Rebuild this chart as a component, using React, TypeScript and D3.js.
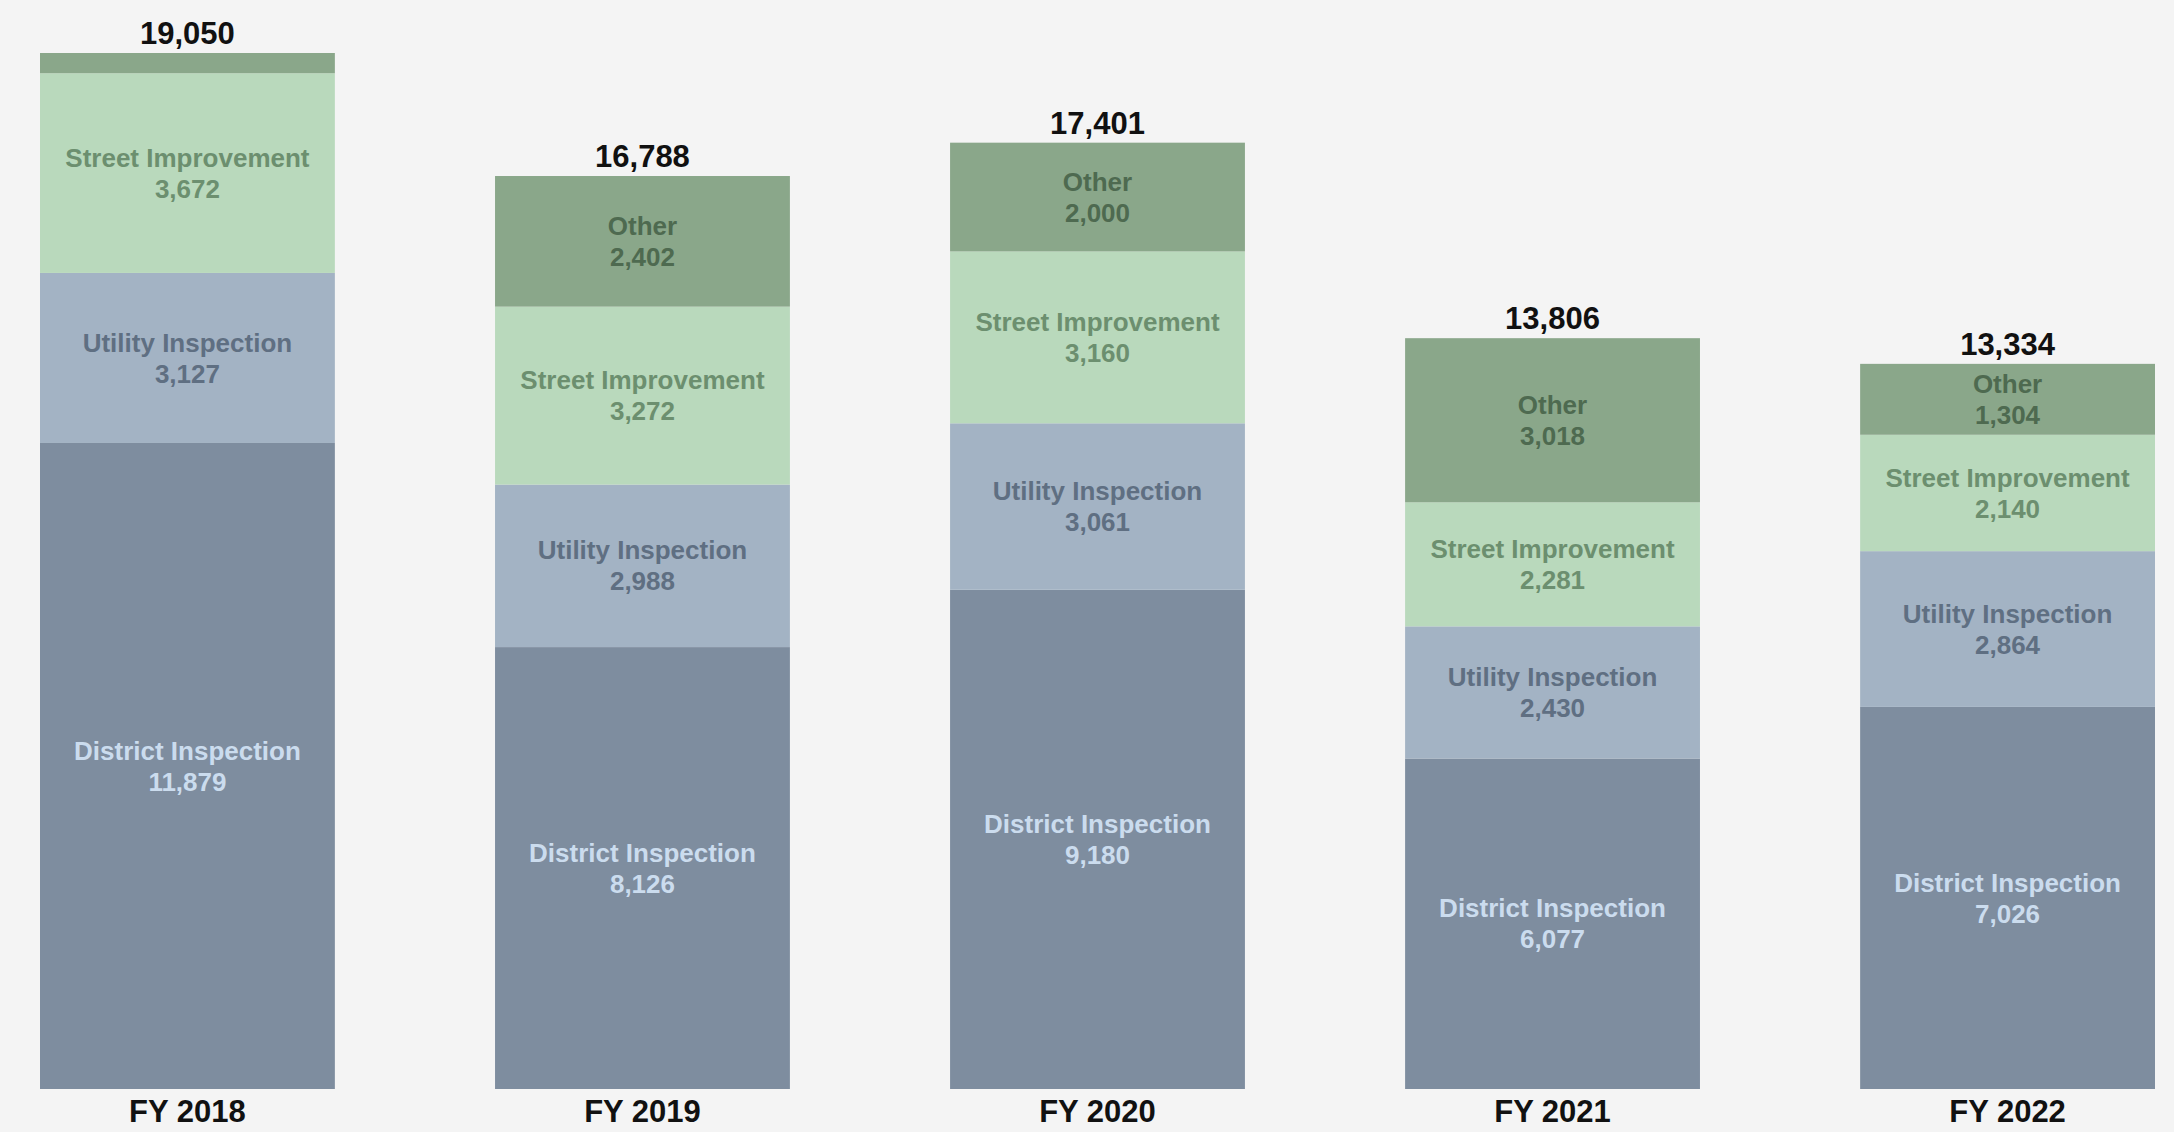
import React from "react";
import * as d3 from "d3";

const years = ["FY 2018", "FY 2019", "FY 2020", "FY 2021", "FY 2022"];
const seriesNames = ["District Inspection", "Utility Inspection", "Street Improvement", "Other"];
const districtInspection = [11879, 8126, 9180, 6077, 7026];
const utilityInspection = [3127, 2988, 3061, 2430, 2864];
const streetImprovement = [3672, 3272, 3160, 2281, 2140];
const other = [372, 2402, 2000, 3018, 1304];
const totals = [19050, 16788, 17401, 13806, 13334];

const fills = ["#7e8d9f", "#a3b3c4", "#b9d9bc", "#8aa78a"];
const textColors = ["#cbdcee", "#5f6f82", "#6c8f6f", "#4e6a50"];

const W = 2174;
const H = 1132;

export default function App() {
  const series = [districtInspection, utilityInspection, streetImprovement, other];
  const rows = years.map((y, i) => {
    const r: any = { year: y };
    seriesNames.forEach((s, k) => (r[s] = series[k][i]));
    return r;
  });
  const stacked = d3.stack().keys(seriesNames)(rows);

  const x = d3.scaleBand().domain(years).range([40, 2155]).paddingInner(0.352).paddingOuter(0);
  const y = d3.scaleLinear().domain([0, 19050]).range([1089, 53]);
  const fmt = d3.format(",");
  const font = "'Liberation Sans', Arial, sans-serif";

  return (
    <svg
      width={W}
      height={H}
      style={{ position: "absolute", left: 0, top: 0, background: "#f4f4f4" }}
      fontFamily={font}
    >
      <rect x={0} y={0} width={W} height={H} fill="#f4f4f4" />
      {stacked.map((layer, k) => (
        <g key={layer.key}>
          {layer.map((d, i) => {
            const x0 = x(years[i])!;
            const y0 = y(d[1]);
            const y1 = y(d[0]);
            const h = y1 - y0;
            const cx = x0 + x.bandwidth() / 2;
            const cy = (y0 + y1) / 2;
            return (
              <g key={years[i]}>
                <rect x={x0} y={y0} width={x.bandwidth()} height={h} fill={fills[k]} />
                {h > 50 && (
                  <text
                    textAnchor="middle"
                    fill={textColors[k]}
                    fontWeight="bold"
                    fontSize={26}
                  >
                    <tspan x={cx} y={cy - 15.5} dy="0.35em">{layer.key}</tspan>
                    <tspan x={cx} y={cy + 15.5} dy="0.35em">{fmt(series[k][i])}</tspan>
                  </text>
                )}
              </g>
            );
          })}
        </g>
      ))}
      {years.map((yr, i) => (
        <text
          key={"t" + yr}
          x={x(yr)! + x.bandwidth() / 2}
          y={y(totals[i]) - 9}
          textAnchor="middle"
          fontWeight="bold"
          fontSize={31}
          fill="#111"
        >
          {fmt(totals[i])}
        </text>
      ))}
      {years.map((yr) => (
        <text
          key={"x" + yr}
          x={x(yr)! + x.bandwidth() / 2}
          y={1122}
          textAnchor="middle"
          fontWeight="bold"
          fontSize={31}
          fill="#111"
        >
          {yr}
        </text>
      ))}
    </svg>
  );
}
